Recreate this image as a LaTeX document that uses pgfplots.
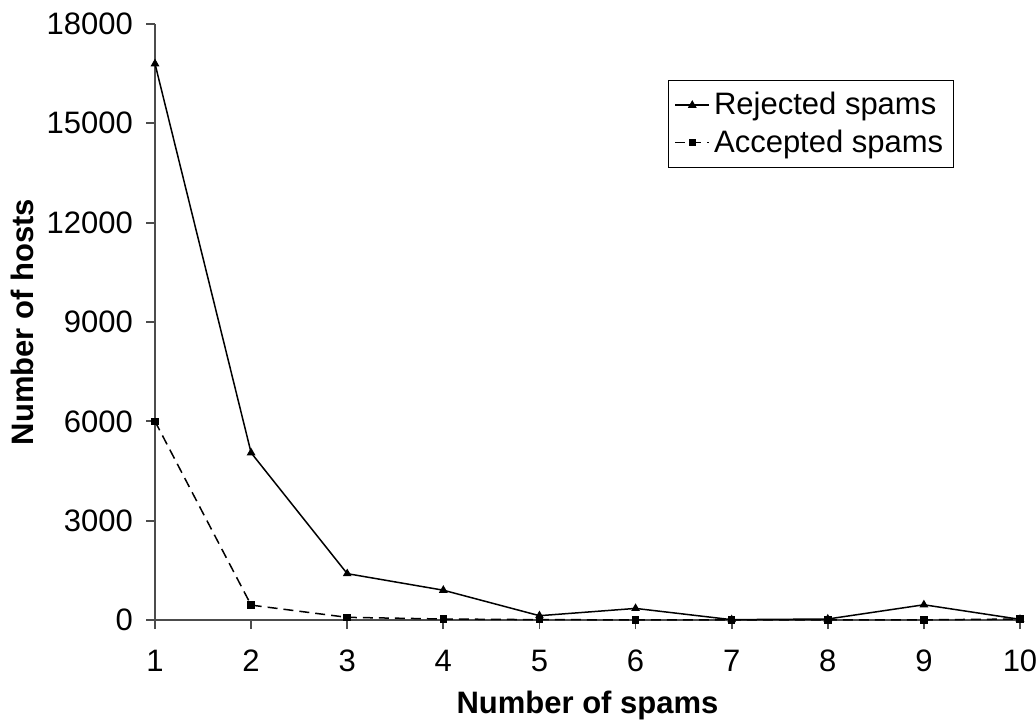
\documentclass[border=0pt]{standalone}
\usepackage{fontspec}
\setmainfont{Liberation Sans}
\usepackage{pgfplots}
\pgfplotsset{compat=1.18}
\begin{document}
\begin{tikzpicture}
\useasboundingbox (-77.5pt,-51pt) rectangle (440.5pt,310pt);
\begin{axis}[
  at={(0,0)}, anchor=south west, scale only axis,
  width=432.5pt, height=298pt,
  xmin=1, xmax=10, ymin=0, ymax=18000,
  axis lines=left,
  axis line style={-, draw=gray!60!black, line width=0.7pt},
  xtick={1,...,10}, ytick={0,3000,...,18000},
  xtick pos=bottom, ytick pos=left,
  tick align=outside, major tick length=4.5pt,
  xtick style={draw=gray!60!black, line width=0.9pt},
  ytick style={draw=gray!60!black, line width=0.9pt},
  /pgf/number format/assume math mode=true,
  /pgf/number format/1000 sep={},
  scaled y ticks=false,
  tick label style={font=\fontsize{15.5}{18}\selectfont},
  xticklabel style={yshift=-7pt},
  yticklabel style={xshift=-3pt},
  xlabel={\textbf{Number of spams}},
  ylabel={\textbf{Number of hosts}},
  label style={font=\fontsize{15.5}{18}\selectfont},
  xlabel style={at={(axis description cs:0.5,-0.143)}, anchor=center},
  ylabel style={at={(axis description cs:-0.153,0.5)}, anchor=center, rotate=0},
  legend style={at={(axis description cs:0.593,0.906)}, anchor=north west,
    draw=black, line width=0.5pt, font=\fontsize{15.5}{18}\selectfont,
    inner xsep=3pt, inner ysep=4pt, row sep=2pt, legend cell align=left},
  legend image post style={line width=0.75pt},
  clip=false,
]
\addplot[black, line width=0.75pt, mark=triangle*, mark size=1.8pt, mark options={solid}]
  coordinates {(1,16800) (2,5050) (3,1400) (4,900) (5,130) (6,350) (7,10) (8,30) (9,460) (10,20)};
\addlegendentry{Rejected spams}
\addplot[black, line width=0.75pt, dash pattern=on 5pt off 3pt, mark=square*, mark size=1.5pt, mark options={solid}]
  coordinates {(1,6000) (2,450) (3,80) (4,30) (5,10) (6,5) (7,5) (8,5) (9,5) (10,30)};
\addlegendentry{Accepted spams}
\end{axis}
\end{tikzpicture}
\end{document}
